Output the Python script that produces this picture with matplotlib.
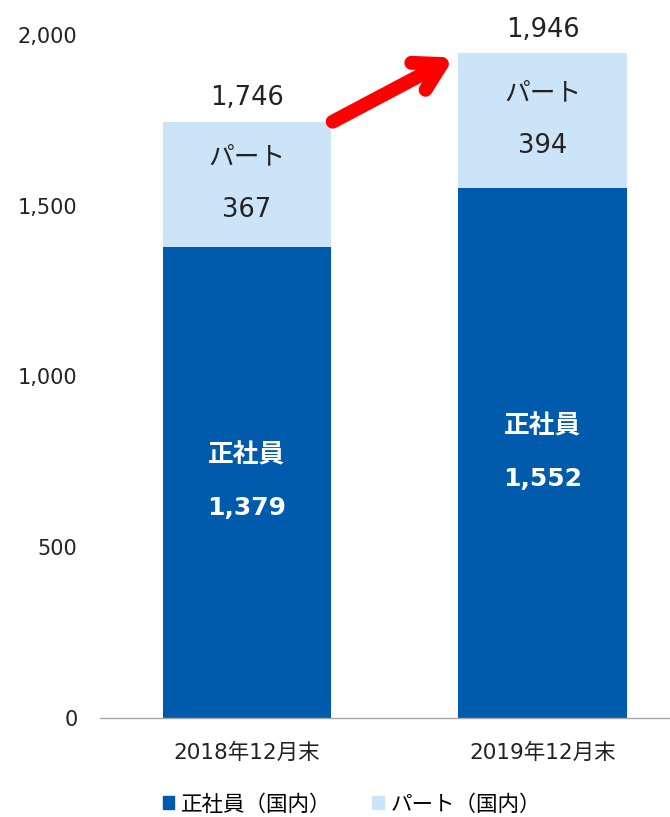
import matplotlib

matplotlib.use("Agg")
import matplotlib.pyplot as plt
from matplotlib.patches import Patch

plt.rcParams["font.family"] = ["DejaVu Sans", "Noto Sans CJK JP"]

periods = ["2018年12月末", "2019年12月末"]
regular = [1379, 1552]   # 正社員（国内）
part = [367, 394]        # パート（国内）
totals = [r + p for r, p in zip(regular, part)]
yticks = [0, 500, 1000, 1500, 2000]

DARK = "#005BAC"
LIGHT = "#CCE4F7"
INK = "#222222"
JP = ["Noto Sans CJK JP", "DejaVu Sans"]

fig = plt.figure(figsize=(6.7, 8.17), dpi=100)
ax = fig.add_axes([0.149, 0.1212, 0.851, 0.836])

x = range(len(periods))
w = 0.57
ax.bar(x, regular, width=w, color=DARK)
ax.bar(x, part, width=w, bottom=regular, color=LIGHT)

for i in x:
    mid = regular[i] / 2
    ax.text(i, mid + 80, "正社員", ha="center", va="center", color="white",
            fontsize=18.5, fontweight="bold", family=JP)
    ax.text(i, mid - 75, f"{regular[i]:,}", ha="center", va="center", color="white",
            fontsize=18, fontweight="bold")
    pmid = regular[i] + part[i] / 2
    ax.text(i, pmid + 80, "パート", ha="center", va="center", color=INK,
            fontsize=18.5, family=JP)
    ax.text(i, pmid - 75, f"{part[i]:,}", ha="center", va="center", color=INK,
            fontsize=18.5)
    ax.text(i, totals[i] + 30, f"{totals[i]:,}", ha="center", va="bottom",
            color=INK, fontsize=18.5)

# growth arrow between the two totals
ax.annotate("", xy=(0.70, totals[1] - 12), xytext=(0.29, totals[0]),
            arrowprops=dict(arrowstyle="->,head_length=1.9,head_width=1.1",
                            color="#FF0000", lw=10, capstyle="round",
                            joinstyle="round", shrinkA=0, shrinkB=0))

ax.set_xlim(-0.497, 1.43)
ax.set_ylim(0, 2000)
ax.set_yticks(yticks)
ax.set_yticklabels([f"{v:,}" for v in yticks])
ax.set_xticks(list(x))
ax.set_xticklabels(periods)
ax.tick_params(axis="y", length=0, pad=16, labelsize=15, labelcolor=INK)
ax.tick_params(axis="x", length=0, pad=18, labelsize=15.5, labelcolor=INK)
for s in ("left", "right", "top"):
    ax.spines[s].set_visible(False)
ax.spines["bottom"].set_color("#A6A6A6")
ax.spines["bottom"].set_linewidth(1)

handles = [Patch(color=DARK, label="正社員（国内）"), Patch(color=LIGHT, label="パート（国内）")]
fig.legend(handles=handles, loc="lower center", bbox_to_anchor=(0.525, -0.022), ncol=2,
           frameon=False, handlelength=0.55, handleheight=0.55, handletextpad=0.3,
           columnspacing=1.9, prop={"family": JP, "size": 15.5})

fig.savefig("out.png", dpi=100)
